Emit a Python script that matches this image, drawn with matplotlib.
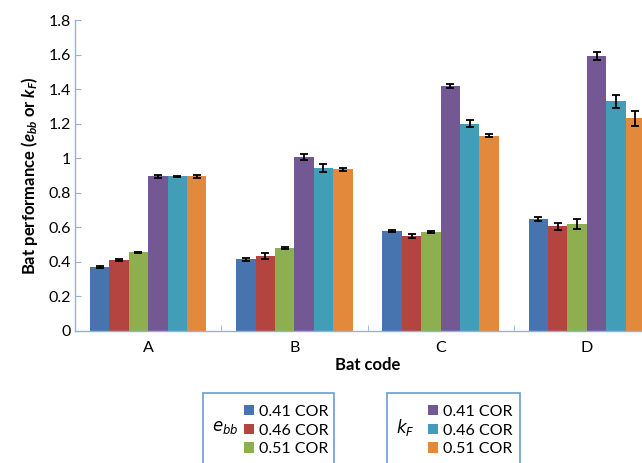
import numpy as np
import matplotlib
matplotlib.use("Agg")
import matplotlib.pyplot as plt
from matplotlib.patches import Rectangle
from matplotlib.ticker import FuncFormatter

plt.rcParams['font.family'] = ['Lato', 'DejaVu Sans']
plt.rcParams['mathtext.fontset'] = 'custom'
plt.rcParams['mathtext.it'] = 'Lato:italic:bold'
plt.rcParams['mathtext.rm'] = 'Lato:bold'

# data
bat_codes = ['A', 'B', 'C', 'D']
series_labels = ['0.41 COR', '0.46 COR', '0.51 COR', '0.41 COR', '0.46 COR', '0.51 COR']
ebb_041 = [0.37, 0.415, 0.58, 0.65]
ebb_046 = [0.41, 0.435, 0.55, 0.605]
ebb_051 = [0.455, 0.48, 0.575, 0.62]
kf_041 = [0.895, 1.005, 1.42, 1.59]
kf_046 = [0.895, 0.945, 1.20, 1.33]
kf_051 = [0.895, 0.935, 1.13, 1.23]
err_ebb_041 = [0.005, 0.008, 0.005, 0.012]
err_ebb_046 = [0.006, 0.018, 0.014, 0.022]
err_ebb_051 = [0.005, 0.006, 0.006, 0.028]
err_kf_041 = [0.008, 0.018, 0.012, 0.022]
err_kf_046 = [0.005, 0.022, 0.022, 0.038]
err_kf_051 = [0.01, 0.01, 0.01, 0.042]

values = [ebb_041, ebb_046, ebb_051, kf_041, kf_046, kf_051]
errors = [err_ebb_041, err_ebb_046, err_ebb_051, err_kf_041, err_kf_046, err_kf_051]
colors = ['#4773AE', '#B4443F', '#8DAF4F', '#745894', '#429EB6', '#E3893C']

W, H = 642, 463
fig = plt.figure(figsize=(W / 100, H / 100), dpi=100)
ax = fig.add_axes([75 / W, 1 - 331 / H, (660 - 75) / W, (331 - 20) / H])

x = np.arange(len(bat_codes))
bw = 0.1325
bars = []
for i, (vals, errs, col) in enumerate(zip(values, errors, colors)):
    b = ax.bar(x + (i - 2.5) * bw, vals, bw, color=col, yerr=errs,
               error_kw=dict(ecolor='black', elinewidth=1.3, capsize=3, capthick=1.3))
    bars.append(b)

ax.set_xlim(-0.5, 3.5)
ax.set_ylim(0, 1.8)
ax.set_yticks(np.arange(0, 1.81, 0.2))
ax.yaxis.set_major_formatter(FuncFormatter(lambda v, p: '%g' % round(v, 1)))
ax.set_xticks(x)
ax.set_xticklabels(bat_codes)
ax.set_xticks(np.arange(0.5, 3.5, 1), minor=True)
ax.tick_params(axis='x', which='major', length=0, labelsize=11.5, pad=7)
ax.tick_params(axis='x', which='minor', direction='in', length=4, color='#8EB4E3')
ax.tick_params(axis='y', direction='in', length=4, color='#8EB4E3',
               labelsize=11.5, pad=3)
for s in ['top', 'right']:
    ax.spines[s].set_visible(False)
for s in ['left', 'bottom']:
    ax.spines[s].set_color('#8EB4E3')
    ax.spines[s].set_linewidth(1.0)

ax.set_xlabel('Bat code', fontsize=12, fontweight='bold', labelpad=2)
ax.set_ylabel(r'Bat performance ($e_{bb}$ or $k_F$)', fontsize=12,
              fontweight='bold', labelpad=6)

# legend boxes
def legend_box(x0, x1, name, handles, labels):
    fig.patches.append(Rectangle((x0 / W, 1 - 475 / H), (x1 - x0) / W, (475 - 393) / H,
                                 transform=fig.transFigure, fill=False,
                                 edgecolor='#6C9BD2', linewidth=1.2))
    fig.text((x0 + 9) / W, 1 - 428 / H, name, fontsize=12, ha='left', va='center',
             math_fontfamily='dejavusans')
    fig.legend(handles, labels, loc='upper left',
               bbox_to_anchor=((x0 + 28) / W, 1 - 392 / H), frameon=False,
               fontsize=11.5, handlelength=0.65, handleheight=0.65,
               handletextpad=0.3, labelspacing=0.3, borderpad=0.3)

legend_box(203, 334, r'$e_{bb}$', bars[:3], series_labels[:3])
legend_box(387, 520, r'$k_F$', bars[3:], series_labels[3:])

fig.savefig('out.png', dpi=100)
